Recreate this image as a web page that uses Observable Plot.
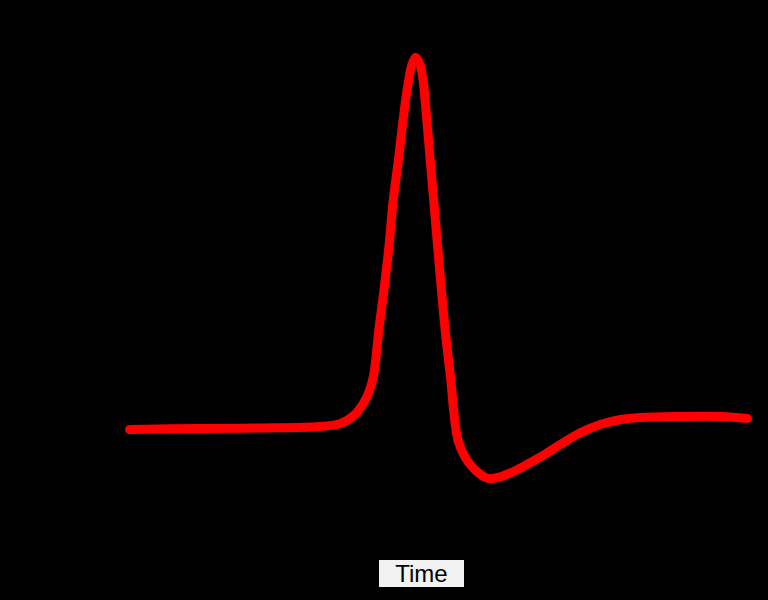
<!DOCTYPE html>
<html>
<head>
<meta charset="utf-8">
<script src="https://cdn.jsdelivr.net/npm/d3@7"></script>
<script src="https://cdn.jsdelivr.net/npm/@observablehq/plot@0.6"></script>
<style>
  html, body { margin: 0; padding: 0; background: #000; }
  #wrap { position: relative; width: 768px; height: 600px; background: #000; overflow: hidden; }
  #label {
    position: absolute; left: 379px; top: 560px; width: 85px; height: 27px;
    background: #f2f2f2; color: #000; font-family: "Liberation Sans", Arial, sans-serif;
    font-size: 24px; line-height: 27px; text-align: center;
  }
</style>
</head>
<body>
<div id="wrap"></div>
<script>
// Time (ms) and membrane voltage (mV)
const timeMs = [0, 0.69, 1.27, 1.85, 2.05, 2.18, 2.27, 2.33, 2.37, 2.39, 2.42, 2.47, 2.52, 2.56, 2.61, 2.65, 2.68,
  2.71, 2.74, 2.78, 2.82, 2.85, 2.87, 2.92, 2.97, 3.02, 3.07, 3.12, 3.15, 3.19, 3.26, 3.36, 3.48, 3.60, 3.77,
  3.89, 4.04, 4.18, 4.38, 4.57, 4.77, 4.96, 5.35, 5.74, 6.0];
const voltageMv = [-70, -69.7, -69.56, -69.11, -68.23, -65.86, -62.31, -58.47, -54.03, -49.6, -40.73, -28.9, -15.59, -2.28, 9.54, 19.89, 27.28,
  33.2, 37.63, 40, 37.93, 33.36, 27.28, 9.54, -8.2, -25.94, -42.2, -55.51, -65.27, -73.25, -78.28, -82.12, -84.49, -84.0, -81.8,
  -79.8, -77.2, -74.5, -70.9, -68.52, -67.04, -66.45, -66.16, -66.16, -66.75];
const xLabel = "Time";

const data = timeMs.map((t, i) => ({t, v: voltageMv[i]}));

const chart = Plot.plot({
  width: 768,
  height: 600,
  marginLeft: 129,
  marginRight: 21,
  marginTop: 23.2,
  marginBottom: 103.4,
  style: {background: "#000"},
  x: {domain: [0, 6], axis: null},
  y: {domain: [-90, 50], axis: null},
  marks: [
    Plot.line(data, {x: "t", y: "v", stroke: "#ff0000", strokeWidth: 9, curve: "catmull-rom", strokeLinejoin: "round"})
  ]
});

const wrap = document.getElementById("wrap");
wrap.appendChild(chart);
const lab = document.createElement("div");
lab.id = "label";
lab.textContent = xLabel;
wrap.appendChild(lab);
</script>
</body>
</html>
